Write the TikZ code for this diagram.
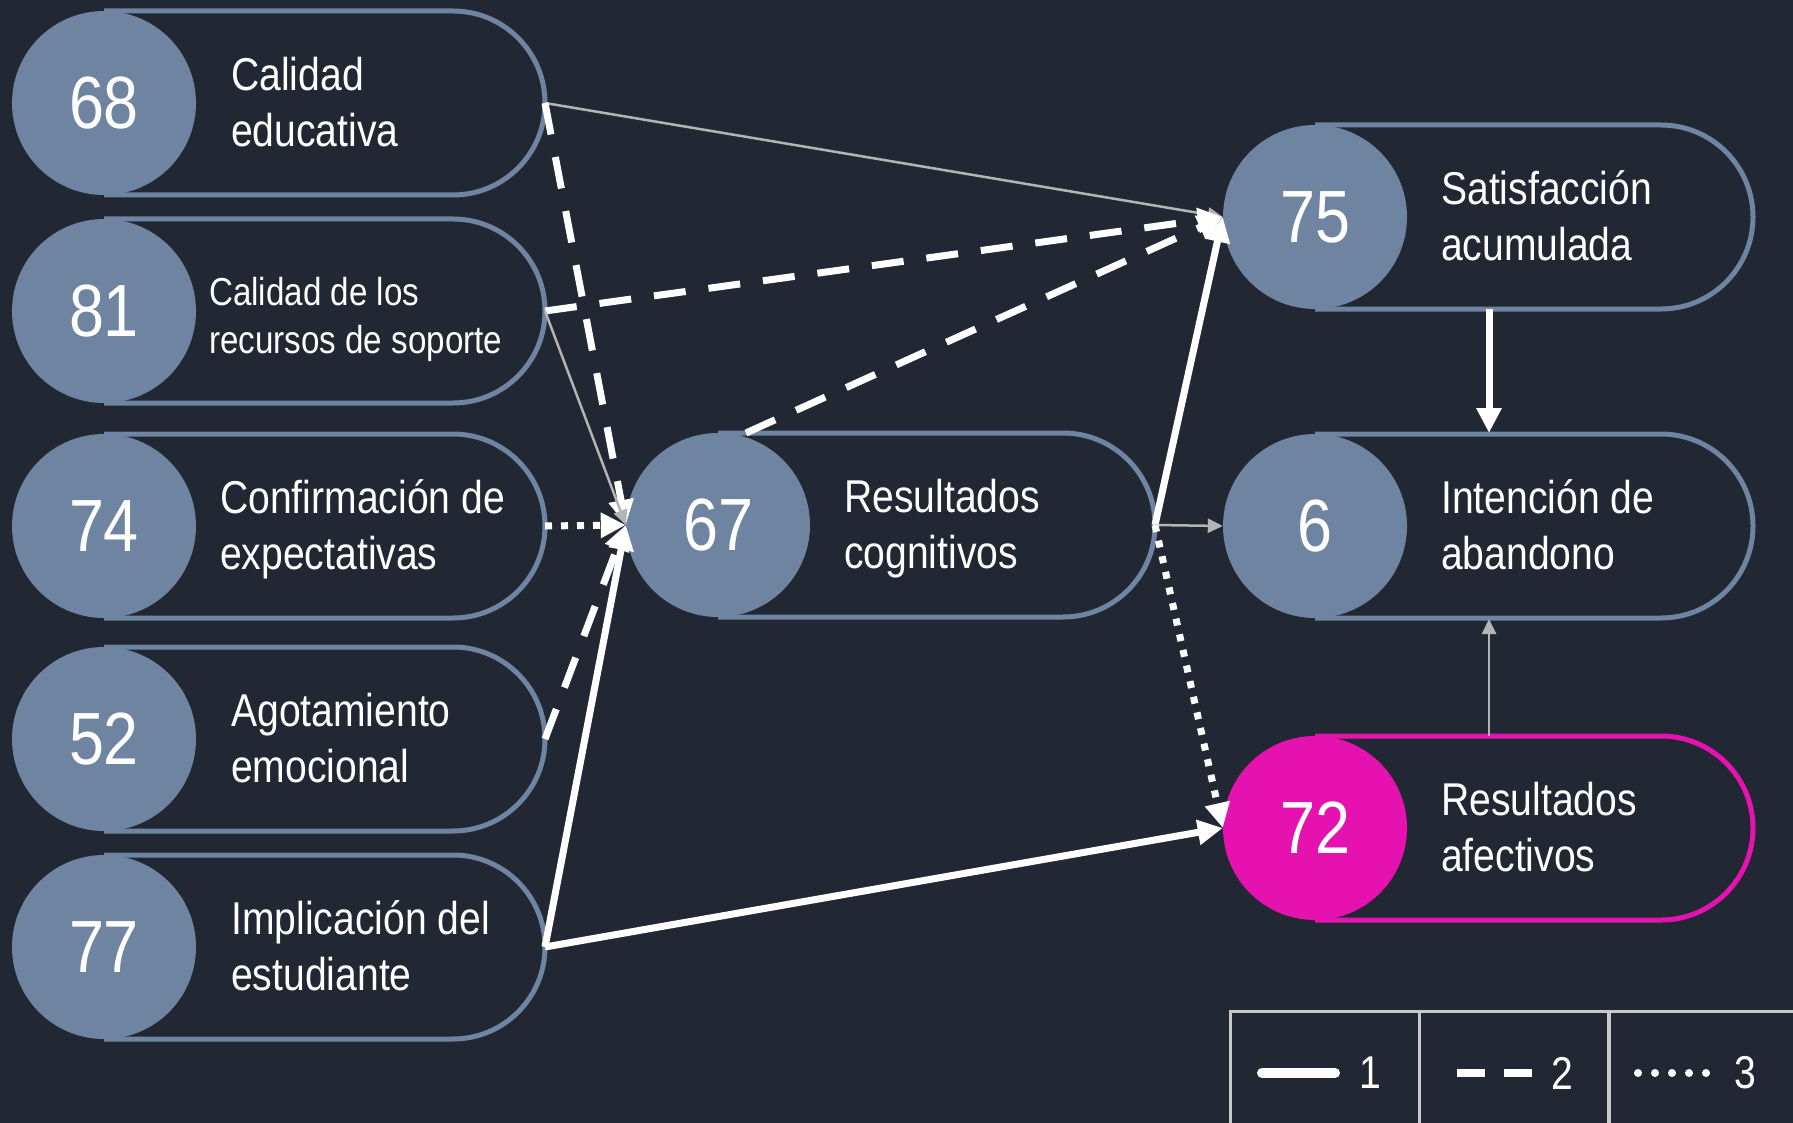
\documentclass[tikz,border=0pt]{standalone}
\usepackage{fontspec}
\setmainfont[FakeStretch=0.85]{Liberation Sans}
\usetikzlibrary{arrows.meta}
\definecolor{bgdark}{HTML}{212833}
\definecolor{slate}{HTML}{6E84A1}
\definecolor{pinkball}{HTML}{E512B0}
\definecolor{thingray}{HTML}{B4B4B4}
\definecolor{legline}{HTML}{C8C8C8}
\tikzset{
  pillline/.style={line width=5pt},
  ball/.style={circle,minimum size=184pt,inner sep=0pt,text=white,
    font=\fontsize{74}{74}\selectfont},
  lab/.style={anchor=west,align=left,inner sep=0pt,text=white,
    font=\fontsize{46}{56}\selectfont},
  smalllab/.style={font=\fontsize{39}{48}\selectfont,yshift=-6pt},
  solidedge/.style={white,line width=7pt,-{Triangle[length=25pt,width=24pt]}},
  dashedge/.style={solidedge,dash pattern=on 32pt off 23pt},
  dotedge/.style={solidedge,dash pattern=on 7pt off 9pt},
  thinedge/.style={thingray,line width=2.5pt,-{Triangle[length=15pt,width=14pt]}},
  legbox/.style={draw=legline,line width=3pt,minimum width=189pt,
    minimum height=124pt,inner sep=0pt},
  legnum/.style={text=white,inner sep=0pt,font=\fontsize{46}{46}\selectfont}
}
\newcommand\twoline[2]{\vphantom{Ólp}#1\\\vphantom{Ólp}#2}
\newcommand\pill[9][]{
  % #2 name, #3 number, #4 x, #5 y, #6 right end, #7 text x, #8 text, #9 colour
  \draw[pillline,draw=#9] (#4,#5-92) -- (#6-92,#5-92)
    arc[start angle=-90,end angle=90,radius=92] -- (#4,#5+92);
  \node[ball,fill=#9] (#2) at (#4,#5) {#3};
  \node[lab,#1] (#2t) at (#7,#5) {#8};
  \coordinate (#2r) at (#6,#5);
}
\begin{document}
\begin{tikzpicture}[x=1pt,y=-1pt]
\useasboundingbox (0,0) rectangle (1793,1123);
\fill[bgdark] (0,0) rectangle (1793,1123);

\pill{n68}{68}{104}{103}{545}{231}{\twoline{Calidad}{educativa}}{slate}
\pill[smalllab]{n81}{81}{104}{311}{545}{209}{\twoline{Calidad de los}{recursos de soporte}}{slate}
\pill{n74}{74}{104}{526}{545}{220}{\twoline{Confirmación de}{expectativas}}{slate}
\pill{n52}{52}{104}{739}{545}{231}{\twoline{Agotamiento}{emocional}}{slate}
\pill{n77}{77}{104}{947}{545}{231}{\twoline{Implicación del}{estudiante}}{slate}
\pill{n67}{67}{718}{525}{1155}{844}{\twoline{Resultados}{cognitivos}}{slate}
\pill{n75}{75}{1315}{217}{1753}{1441}{\twoline{Satisfacción}{acumulada}}{slate}
\pill{n6}{6}{1315}{526}{1753}{1441}{\twoline{Intención de}{abandono}}{slate}
\pill{n72}{72}{1315}{828}{1753}{1441}{\twoline{Resultados}{afectivos}}{pinkball}

\coordinate (n67top) at (746,433);
\coordinate (n75bot) at (1489,309);
\coordinate (n6top) at (1489,433);
\coordinate (n6bot) at (1489,619);
\coordinate (n72top) at (1489,736);

\draw[thinedge] (n68r) -- (n75.west);
\draw[dashedge] (n68r) -- (n67.west);
\draw[dashedge] (n81r) -- (n75.west);
\draw[thinedge] (n81r) -- (n67.west);
\draw[dotedge] (n74r) -- (n67.west);
\draw[dashedge] (n52r) -- (n67.west);
\draw[solidedge] (n77r) -- (n67.west);
\draw[solidedge] (n77r) -- (n72.west);
\draw[dashedge] (n67top) -- (n75.west);
\draw[solidedge] (n67r) -- (n75.west);
\draw[thinedge] (n67r) -- (n6.west);
\draw[dotedge] (n67r) -- (n72.west);
\draw[solidedge] (n75bot) -- (n6top);
\draw[thinedge] (n72top) -- (n6bot);

\node[legbox] (leg1) at (1325,1073) {};
\node[legbox] (leg2) at (1514,1073) {};
\node[legbox] (leg3) at (1704,1073) {};
\draw[white,line width=10pt,line cap=round] (1262,1073) -- (1335,1073);
\node[legnum] (k1) at (1370,1073) {1};
\draw[white,line width=8pt,dash pattern=on 28pt off 19pt] (1457,1073) -- (1532,1073);
\node[legnum] (k2) at (1562,1073) {2};
\draw[white,line width=8pt,line cap=round,dash pattern=on 0pt off 17pt] (1638,1073) -- (1707,1073);
\node[legnum] (k3) at (1745,1073) {3};
\end{tikzpicture}
\end{document}
